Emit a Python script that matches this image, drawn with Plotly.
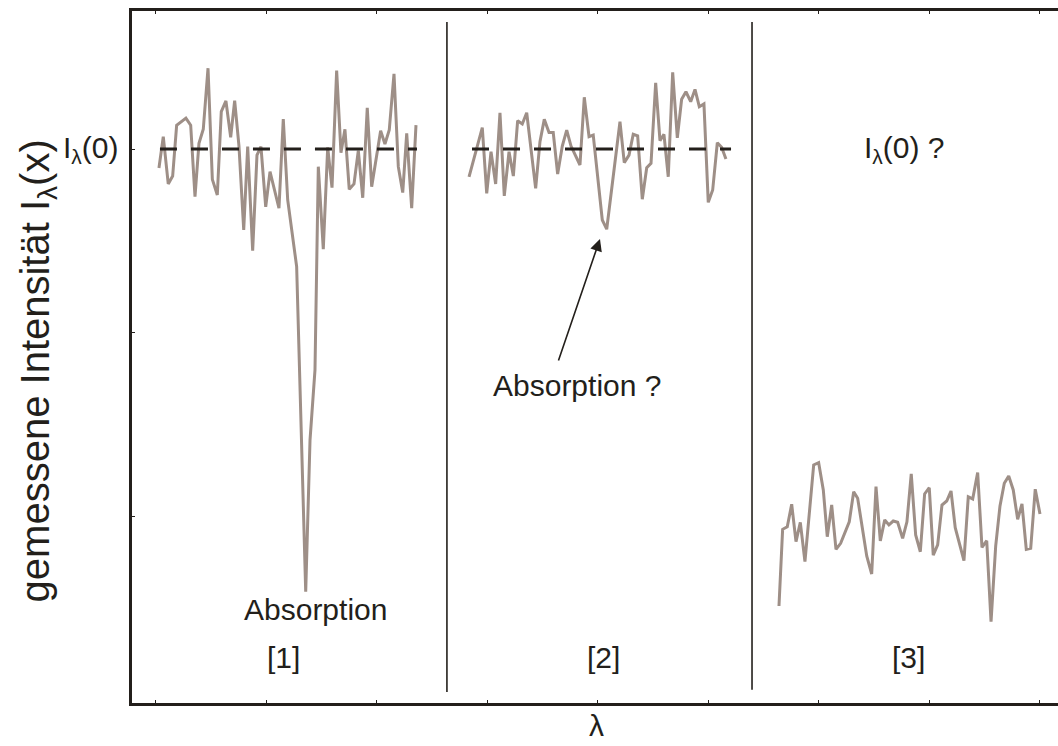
import plotly.graph_objects as go

# ---- data (wavelength in axis units, intensity in axis units; I0 level = 3) ----
x1 = [0.027, 0.066, 0.111, 0.151, 0.187, 0.271, 0.314, 0.353, 0.389, 0.428, 0.471, 0.510,
      0.555, 0.591, 0.633, 0.676, 0.712, 0.751, 0.794, 0.830, 0.875, 0.914, 0.950, 0.993,
      1.032, 1.113, 1.152, 1.192, 1.273, 1.355, 1.394, 1.439, 1.469, 1.514, 1.554, 1.593,
      1.635, 1.674, 1.710, 1.749, 1.792, 1.831, 1.871, 1.912, 1.952, 2.033, 2.072, 2.111,
      2.154, 2.193, 2.233, 2.269, 2.314, 2.353]
y1 = [2.897, 3.067, 2.810, 2.853, 3.129, 3.168, 3.129, 2.741, 3.031, 3.107, 3.439, 2.835,
      2.750, 3.203, 3.261, 3.064, 3.263, 3.016, 2.560, 3.013, 2.447, 2.967, 3.013, 2.686,
      2.877, 2.678, 3.163, 2.723, 2.361, 0.594, 1.418, 1.799, 2.904, 2.455, 3.009, 2.790,
      3.426, 2.980, 3.107, 2.781, 2.810, 2.991, 2.735, 3.224, 2.795, 3.099, 3.027, 3.103,
      3.408, 2.904, 2.763, 3.085, 2.678, 3.130]

x2 = [2.833, 2.953, 2.993, 3.032, 3.074, 3.113, 3.152, 3.195, 3.234, 3.273, 3.315, 3.355,
      3.436, 3.475, 3.514, 3.557, 3.595, 3.635, 3.677, 3.717, 3.756, 3.837, 3.876, 3.919,
      3.957, 4.039, 4.079, 4.199, 4.238, 4.281, 4.319, 4.359, 4.401, 4.441, 4.480, 4.522,
      4.561, 4.597, 4.636, 4.676, 4.718, 4.757, 4.796, 4.839, 4.878, 4.917, 4.959, 4.998,
      5.038, 5.080, 5.119, 5.158]
y2 = [2.849, 3.116, 2.759, 2.985, 2.810, 3.197, 2.745, 2.985, 2.853, 3.154, 3.136, 3.197,
      2.786, 3.040, 3.161, 3.089, 3.089, 2.864, 3.016, 3.103, 3.016, 2.913, 3.281, 3.067,
      3.076, 2.614, 2.564, 3.148, 2.926, 2.967, 3.080, 3.071, 2.727, 2.898, 2.922, 3.360,
      3.045, 3.080, 2.849, 3.417, 3.061, 3.270, 3.311, 3.257, 3.324, 3.230, 3.245, 2.710,
      2.777, 3.034, 3.009, 2.946]

x3 = [5.638, 5.671, 5.713, 5.753, 5.792, 5.831, 5.873, 5.952, 5.997, 6.039, 6.075, 6.115,
      6.154, 6.196, 6.274, 6.314, 6.350, 6.432, 6.477, 6.516, 6.555, 6.595, 6.633, 6.672,
      6.712, 6.757, 6.796, 6.835, 6.875, 6.917, 6.956, 6.998, 7.034, 7.074, 7.113, 7.156,
      7.195, 7.233, 7.312, 7.351, 7.391, 7.436, 7.475, 7.518, 7.557, 7.599, 7.638, 7.677,
      7.717, 7.758, 7.798, 7.837, 7.876, 7.916, 7.957, 8.000]
y3 = [0.516, 0.933, 0.947, 1.069, 0.866, 0.971, 0.757, 1.283, 1.295, 1.147, 0.893, 1.065,
      0.824, 0.857, 0.974, 1.137, 1.102, 0.788, 0.690, 1.165, 0.870, 0.984, 0.957, 0.978,
      0.971, 0.884, 0.974, 1.234, 0.902, 0.811, 1.125, 1.159, 0.793, 0.848, 1.065, 1.087,
      1.141, 0.942, 0.763, 1.110, 1.098, 1.241, 0.835, 0.871, 0.431, 0.842, 1.060, 1.183,
      1.223, 1.147, 0.987, 1.071, 0.824, 0.830, 1.151, 1.016]

i0_level = 3.0
ref_x1 = [0.036, 2.362]
ref_x2 = [2.860, 5.204]
divider_x = [2.633, 5.394]

x_ticks = [0, 1, 2, 3, 4, 5, 6, 7, 8]
y_ticks = [1, 2, 3]
panel_labels = ["[1]", "[2]", "[3]"]
panel_label_x = [1.158, 4.054, 6.814]

FONT = "Liberation Sans, Arial, Helvetica, sans-serif"
SPEC = "#9e8f87"
INK = "#231f1b"

fig = go.Figure()
for xs, ys in [(x1, y1), (x2, y2), (x3, y3)]:
    fig.add_trace(go.Scatter(x=xs, y=ys, mode="lines",
                             line=dict(color=SPEC, width=3), showlegend=False,
                             hoverinfo="skip"))
for rx in [ref_x1, ref_x2]:
    fig.add_trace(go.Scatter(x=rx, y=[i0_level, i0_level], mode="lines",
                             line=dict(color=INK, width=3.2, dash="17px,14px"),
                             showlegend=False, hoverinfo="skip"))

for dx, y0, y1_ in [(divider_x[0], 0.016, 0.984), (divider_x[1], 0.019, 0.984)]:
    fig.add_shape(type="line", xref="x", yref="paper", x0=dx, x1=dx, y0=y0, y1=y1_,
                  line=dict(color=INK, width=1.6))

ann_font = dict(family=FONT, size=30, color=INK)
for lab, lx in zip(panel_labels, panel_label_x):
    fig.add_annotation(x=lx, y=0.239, text=lab, showarrow=False, font=ann_font)

fig.add_annotation(x=1.448, y=0.495, text="Absorption", showarrow=False, font=ann_font)
fig.add_annotation(x=3.81, y=1.717, text="Absorption ?", showarrow=False, font=ann_font)
fig.add_annotation(x=6.778, y=i0_level, text="I<sub>λ</sub>(0) ?", showarrow=False,
                   font=ann_font)
fig.add_annotation(x=4.018, y=2.511, text="", showarrow=True, ax=-42, ay=123,
                   arrowhead=2, arrowsize=1.5, arrowwidth=1.6, arrowcolor=INK)
fig.add_annotation(xref="paper", x=-0.012, y=i0_level, xanchor="right",
                   text="I<sub>λ</sub>(0)", showarrow=False, font=ann_font)
fig.add_annotation(xref="paper", yref="paper", x=-0.102, xanchor="center",
                   y=0.48, text="gemessene Intensität I<sub>λ</sub>(x)", textangle=-90,
                   showarrow=False, font=dict(family=FONT, size=40, color=INK))
fig.add_annotation(xref="paper", yref="paper", x=0.502, y=-0.033, yanchor="middle",
                   text="λ", showarrow=False, font=dict(family=FONT, size=30, color=INK))

fig.update_xaxes(range=[-0.217, 8.163], showgrid=False, zeroline=False,
                 showline=True, linewidth=3, linecolor=INK, mirror="ticks",
                 ticks="inside", ticklen=3, tickwidth=1, tickcolor=INK,
                 tickvals=x_ticks, showticklabels=False)
fig.update_yaxes(range=[-0.011, 3.75], showgrid=False, zeroline=False,
                 showline=True, linewidth=3, linecolor=INK, mirror=False,
                 ticks="inside", ticklen=3, tickwidth=1, tickcolor=INK,
                 tickvals=y_ticks, showticklabels=False)

fig.update_layout(width=1058, height=746, margin=dict(l=132, r=0, t=11, b=43),
                  plot_bgcolor="white", paper_bgcolor="white",
                  font=dict(family=FONT))

fig.write_html("out.html")
